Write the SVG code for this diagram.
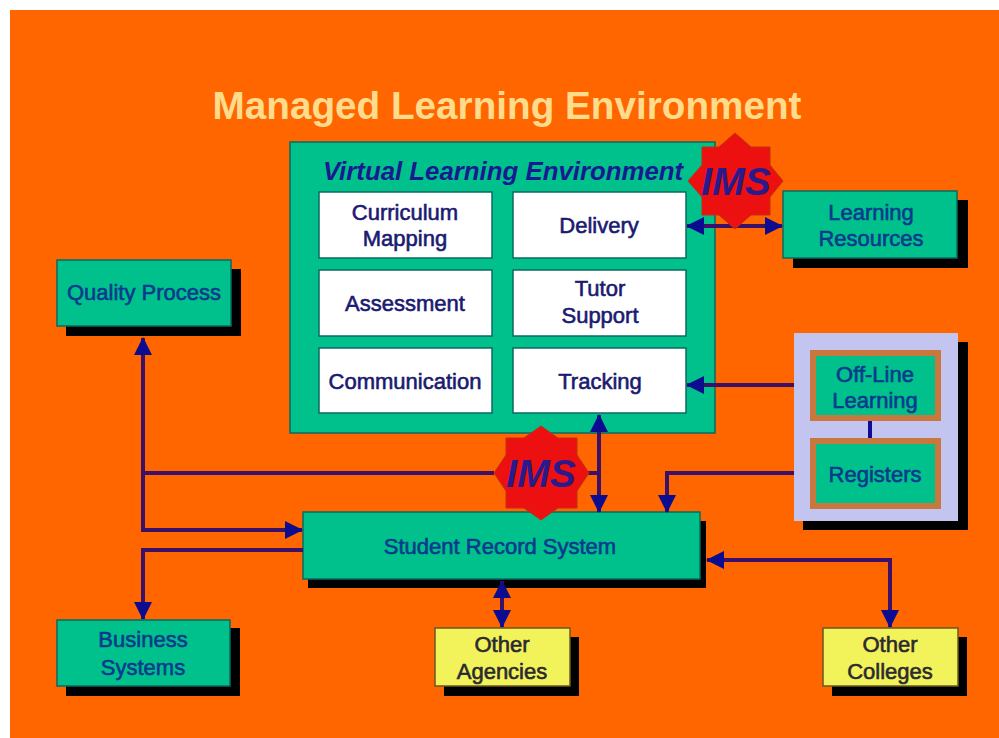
<svg xmlns="http://www.w3.org/2000/svg" width="999" height="738" viewBox="0 0 999 738">
<style>
text{font-family:"Liberation Sans",Arial,sans-serif;font-size:22px;text-anchor:middle;font-weight:400}
.g{fill:#00c08c;stroke:#0a6a60;stroke-width:1.5}
.w{fill:#fff;stroke:#0a6a60;stroke-width:1.5}
.y{fill:#f2f25a;stroke:#6a5a20;stroke-width:1.5}
.s{fill:#000}
.o{fill:#00c08c;stroke:#c8783c;stroke-width:6}
.t{fill:#0a3a8c;stroke:#0a3a8c;stroke-width:.6}
.n{fill:#1a1a70;stroke:#1a1a70;stroke-width:.6}
.k{fill:#2a2a30;stroke:#2a2a30;stroke-width:.6}
.c{fill:none;stroke:#3a1068;stroke-width:4}
.ims{fill:#ec1010;stroke:#c03010;stroke-width:1}
.it{fill:#2a1a8c;font-size:39px;font-style:italic;font-weight:700}
</style>
<defs>
<marker id="a" viewBox="0 0 18 18" refX="17" refY="9" markerWidth="18" markerHeight="18" markerUnits="userSpaceOnUse" orient="auto-start-reverse"><path d="M0 0L18 9L0 18Z" fill="#0c0c90"/></marker>
</defs>
<rect width="999" height="738" fill="#fff"/>
<rect x="10" y="10" width="989" height="728" fill="#ff6600"/>
<text id="title" x="507" y="119" style="font-size:38.7px;font-weight:700;fill:#ffdc8c">Managed Learning Environment</text>

<g id="vle">
<rect class="g" x="290" y="142" width="425" height="291"/>
<text x="503" y="180" style="font-size:25.8px;font-weight:700;font-style:italic;fill:#1a1a90">Virtual Learning Environment</text>
</g>
<g id="curriculum"><rect class="w" x="319" y="192" width="173" height="66"/><text class="n" x="405" y="220">Curriculum</text><text class="n" x="405" y="246">Mapping</text></g>
<g id="delivery"><rect class="w" x="513" y="192" width="173" height="66"/><text class="n" x="599" y="233">Delivery</text></g>
<g id="assessment"><rect class="w" x="319" y="270" width="173" height="66"/><text class="n" x="405" y="311">Assessment</text></g>
<g id="tutor"><rect class="w" x="513" y="270" width="173" height="66"/><text class="n" x="600" y="296">Tutor</text><text class="n" x="600" y="323">Support</text></g>
<g id="communication"><rect class="w" x="319" y="348" width="173" height="65"/><text class="n" x="405" y="389">Communication</text></g>
<g id="tracking"><rect class="w" x="513" y="348" width="173" height="65"/><text class="n" x="600" y="389">Tracking</text></g>

<g id="resources"><rect class="s" x="793" y="200" width="175" height="68"/><rect class="g" x="783" y="191" width="174" height="67"/><text class="t" x="871" y="220">Learning</text><text class="t" x="871" y="246">Resources</text></g>
<g id="quality"><rect class="s" x="66" y="269" width="175" height="67"/><rect class="g" x="57" y="260" width="174" height="66"/><text class="t" x="144" y="300">Quality Process</text></g>
<g id="offline-group">
<rect class="s" x="803" y="342" width="165" height="188"/>
<rect x="794" y="333" width="164" height="188" fill="#c4c4f0"/>
<rect class="o" x="813" y="353" width="125" height="65"/>
<rect class="o" x="813" y="441" width="125" height="65"/>
<text class="t" x="875" y="382">Off-Line</text>
<text class="t" x="875" y="408">Learning</text>
<text class="t" x="875" y="482">Registers</text>
</g>
<g id="srs"><rect class="s" x="308" y="521" width="398" height="67"/><rect class="g" x="303" y="512" width="397" height="67"/><text class="t" x="500" y="554">Student Record System</text></g>
<g id="business"><rect class="s" x="66" y="628" width="174" height="68"/><rect class="g" x="57" y="620" width="173" height="66"/><text class="t" x="143" y="647">Business</text><text class="t" x="143" y="675">Systems</text></g>
<g id="agencies"><rect class="s" x="444" y="637" width="135" height="59"/><rect class="y" x="435" y="628" width="135" height="58"/><text class="k" x="502" y="652">Other</text><text class="k" x="502" y="679">Agencies</text></g>
<g id="colleges"><rect class="s" x="832" y="637" width="135" height="59"/><rect class="y" x="823" y="628" width="135" height="58"/><text class="k" x="890" y="652">Other</text><text class="k" x="890" y="679">Colleges</text></g>

<g id="connectors">
<path class="c" d="M782 226H687" marker-start="url(#a)" marker-end="url(#a)"/>
<path class="c" d="M794 385H687" marker-end="url(#a)"/>
<path class="c" d="M870 421V438" style="stroke:#0c0c96"/>
<path class="c" d="M599 415V512" marker-start="url(#a)" marker-end="url(#a)"/>
<path class="c" d="M588 473H599"/>
<path class="c" d="M494 473H144"/>
<path class="c" d="M143 338V530H302" marker-start="url(#a)" marker-end="url(#a)"/>
<path class="c" d="M303 550H143V619" marker-end="url(#a)"/>
<path class="c" d="M794 473H667V512" marker-end="url(#a)"/>
<path class="c" d="M502 581V627" marker-start="url(#a)" marker-end="url(#a)"/>
<path class="c" d="M707 560H890V627" marker-start="url(#a)" marker-end="url(#a)"/>
</g>

<g id="ims-top"><path class="ims" d="M735 133L751 147H770V165L783 181L770 197V215H751L735 229L719 215H702V197L688 181L702 165V147H719Z"/><text class="it" x="736" y="195">IMS</text></g>
<g id="ims-bottom"><path class="ims" d="M541 426L558 438H577V455L589 473L577 491V508H558L541 520L524 508H506V491L494 473L506 455V438H524Z"/><text class="it" x="541" y="487">IMS</text></g>
</svg>
